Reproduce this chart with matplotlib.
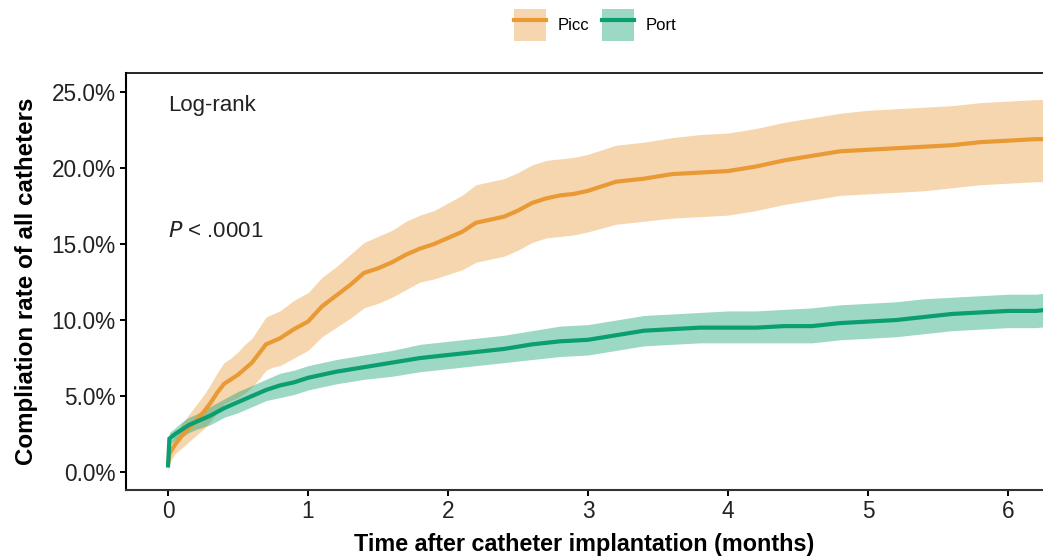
import matplotlib
matplotlib.use("Agg")
import matplotlib.pyplot as plt
from matplotlib.patches import Patch
from matplotlib.lines import Line2D
from matplotlib.ticker import FuncFormatter

plt.rcParams['font.family'] = ['Liberation Sans', 'DejaVu Sans']

# cumulative complication rate (%)
picc_t = [0, 0.01, 0.05, 0.1, 0.15, 0.2, 0.25, 0.3, 0.35, 0.4, 0.45, 0.5, 0.55, 0.6,
          0.65, 0.7, 0.75, 0.8, 0.9, 1.0, 1.1, 1.2, 1.3, 1.4, 1.5, 1.6, 1.7, 1.8, 1.9,
          2.0, 2.1, 2.2, 2.3, 2.4, 2.5, 2.6, 2.7, 2.8, 2.9, 3.0, 3.2, 3.4, 3.6, 3.8,
          4.0, 4.2, 4.4, 4.6, 4.8, 5.0, 5.2, 5.4, 5.6, 5.8, 6.0, 6.2, 6.3]
picc_est = [0.5, 1.2, 1.8, 2.4, 2.9, 3.4, 3.9, 4.5, 5.2, 5.8, 6.1, 6.4, 6.8, 7.2,
            7.8, 8.4, 8.6, 8.8, 9.4, 9.9, 10.9, 11.6, 12.3, 13.1, 13.4, 13.8, 14.3, 14.7, 15.0,
            15.4, 15.8, 16.4, 16.6, 16.8, 17.2, 17.7, 18.0, 18.2, 18.3, 18.5, 19.1, 19.3, 19.6, 19.7,
            19.8, 20.1, 20.5, 20.8, 21.1, 21.2, 21.3, 21.4, 21.5, 21.7, 21.8, 21.9, 21.9]
picc_lo = [0.0, 0.6, 1.2, 1.6, 2.0, 2.4, 2.8, 3.3, 3.9, 4.5, 4.7, 4.9, 5.2, 5.6,
           6.1, 6.7, 6.9, 7.0, 7.5, 8.0, 8.9, 9.5, 10.1, 10.8, 11.1, 11.5, 12.0, 12.5, 12.7,
           13.0, 13.3, 13.8, 14.0, 14.2, 14.6, 15.1, 15.4, 15.5, 15.6, 15.8, 16.3, 16.5, 16.7, 16.8,
           16.9, 17.2, 17.6, 17.9, 18.2, 18.3, 18.4, 18.5, 18.7, 18.9, 19.0, 19.1, 19.1]
picc_hi = [1.1, 1.8, 2.4, 3.2, 3.8, 4.4, 5.0, 5.7, 6.5, 7.2, 7.5, 7.9, 8.4, 8.8,
           9.5, 10.2, 10.4, 10.6, 11.3, 11.8, 12.8, 13.5, 14.3, 15.1, 15.5, 15.9, 16.5, 16.9, 17.2,
           17.7, 18.2, 18.9, 19.1, 19.3, 19.7, 20.2, 20.5, 20.6, 20.7, 20.9, 21.5, 21.7, 22.0, 22.2,
           22.3, 22.6, 23.0, 23.3, 23.6, 23.8, 23.9, 24.0, 24.1, 24.3, 24.4, 24.5, 24.5]

port_t = [0, 0.01, 0.05, 0.1, 0.15, 0.2, 0.3, 0.4, 0.5, 0.6, 0.7, 0.8, 0.9, 1.0,
          1.2, 1.4, 1.6, 1.8, 2.0, 2.2, 2.4, 2.6, 2.8, 3.0, 3.2, 3.4, 3.6, 3.8, 4.0,
          4.2, 4.4, 4.6, 4.8, 5.0, 5.2, 5.4, 5.6, 5.8, 6.0, 6.2, 6.3]
port_est = [0.3, 2.2, 2.5, 2.8, 3.1, 3.3, 3.7, 4.2, 4.6, 5.0, 5.4, 5.7, 5.9, 6.2,
            6.6, 6.9, 7.2, 7.5, 7.7, 7.9, 8.1, 8.4, 8.6, 8.7, 9.0, 9.3, 9.4, 9.5, 9.5,
            9.5, 9.6, 9.6, 9.8, 9.9, 10.0, 10.2, 10.4, 10.5, 10.6, 10.6, 10.7]
port_lo = [0.1, 1.8, 2.1, 2.3, 2.6, 2.8, 3.1, 3.6, 3.9, 4.3, 4.7, 4.9, 5.1, 5.4,
           5.8, 6.1, 6.3, 6.6, 6.8, 7.0, 7.2, 7.4, 7.6, 7.7, 8.0, 8.3, 8.4, 8.5, 8.5,
           8.5, 8.5, 8.5, 8.7, 8.8, 8.9, 9.1, 9.3, 9.4, 9.5, 9.5, 9.6]
port_hi = [0.5, 2.6, 2.9, 3.3, 3.6, 3.8, 4.3, 4.8, 5.3, 5.7, 6.1, 6.5, 6.7, 7.0,
           7.4, 7.7, 8.0, 8.4, 8.6, 8.8, 9.0, 9.3, 9.6, 9.7, 10.0, 10.3, 10.4, 10.5, 10.6,
           10.6, 10.7, 10.8, 11.0, 11.1, 11.2, 11.4, 11.5, 11.6, 11.7, 11.7, 11.8]

groups = ['Picc', 'Port']
colors = ['#E99A35', '#0A9E70']
xticks = [0, 1, 2, 3, 4, 5, 6]
yticks = [0, 5, 10, 15, 20, 25]

fig = plt.figure(figsize=(10.43, 5.56), dpi=100)
ax = fig.add_axes([0.1208, 0.1187, 0.8792, 0.75])

series = [(picc_t, picc_est, picc_lo, picc_hi), (port_t, port_est, port_lo, port_hi)]
for (t, est, lo, hi), c in zip(series, colors):
    ax.fill_between(t, lo, hi, color=c, alpha=0.4, linewidth=0)
    ax.plot(t, est, color=c, lw=3.0, solid_capstyle='butt', solid_joinstyle='miter')

ax.set_xlim(-0.3, 6.25)
ax.set_ylim(-1.18, 26.25)
ax.set_xticks(xticks)
ax.set_yticks(yticks)
ax.yaxis.set_major_formatter(FuncFormatter(lambda v, p: '%.1f%%' % v))
ax.tick_params(axis='both', direction='out', length=4.5, width=1.4, colors='black',
               labelsize=16.3, labelcolor='#222222', pad=3)

ax.spines['right'].set_visible(False)
ax.spines['left'].set_linewidth(1.5)
ax.spines['bottom'].set_linewidth(1.5)
ax.spines['bottom'].set_color('#333333')
ax.spines['top'].set_linewidth(1.2)

ax.set_xlabel('Time after catheter implantation (months)', fontsize=16.8, fontweight='bold', labelpad=7)
ax.set_ylabel('Compliation rate of all catheters', fontsize=17.4, fontweight='bold', labelpad=10)

ax.text(0.0, 24.1, 'Log-rank', fontsize=16, va='center', ha='left', color='#222222')
ax.text(0.0, 15.8, '$\\it{P}$ < .0001', fontsize=16, va='center', ha='left', color='#222222')

# legend: light square with solid line through it
handles = []
for c in colors:
    handles.append((Patch(facecolor=c, alpha=0.4, edgecolor='none'),
                    Line2D([], [], color=c, lw=3.0)))
fig.legend(handles, groups, loc='center', bbox_to_anchor=(0.5705, 0.955), ncol=2,
           frameon=False, fontsize=12, handlelength=1.9, handleheight=2.58,
           handletextpad=0.7, columnspacing=0.8)

fig.savefig('out.png', dpi=100)
